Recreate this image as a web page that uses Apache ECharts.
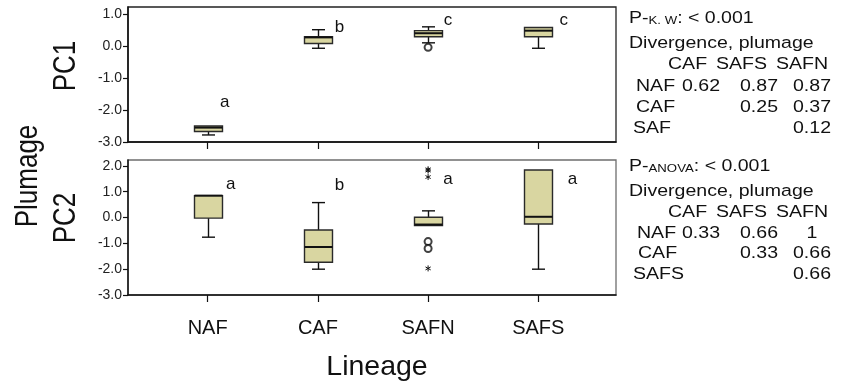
<!DOCTYPE html>
<html><head><meta charset="utf-8">
<script src="https://cdn.jsdelivr.net/npm/echarts@6/dist/echarts.min.js"></script>
<style>html,body{margin:0;padding:0;background:#fff}#c{width:842px;height:385px}</style>
</head><body><div id="c"></div>
<script>
const categories = ['NAF', 'CAF', 'SAFN', 'SAFS'];
// each box: [min, q1, median, q3, max]
const pc1Boxes = [
  [-2.78, -2.67, -2.55, -2.50, -2.50],
  [-0.07, 0.08, 0.27, 0.29, 0.51],
  [0.10, 0.29, 0.40, 0.48, 0.60],
  [-0.07, 0.29, 0.48, 0.58, 0.58]
];
const pc1Outliers = [[2, -0.04]];
const pc1Extremes = [];
const pc2Boxes = [
  [-0.76, -0.02, 0.85, 0.85, 0.85],
  [-2.00, -1.73, -1.14, -0.48, 0.58],
  [-0.32, -0.31, -0.27, 0.01, 0.26],
  [-2.00, -0.25, 0.03, 1.84, 1.84]
];
const pc2Outliers = [[2, -0.93], [2, -1.20]];
const pc2Extremes = [[2, 1.87], [2, 1.82], [2, 1.57], [2, -1.97]];
// group letters: [x position (category index + offset), y value, letter]
const pc1Letters = [[0.155, -1.75, 'a'], [1.195, 0.58, 'b'], [2.18, 0.81, 'c'], [3.23, 0.81, 'c']];
const pc2Letters = [[0.21, 1.29, 'a'], [1.195, 1.24, 'b'], [2.18, 1.49, 'a'], [3.31, 1.49, 'a']];
const pc1Ticks = [-3, -2, -1, 0, 1];
const pc2Ticks = [-3, -2, -1, 0, 1, 2];
const xTicks = [0, 1, 2, 3];
// right-hand text tables
const pc1Stat = ['P-', 'K. W', ': < 0.001'];
const pc2Stat = ['P-', 'ANOVA', ': < 0.001'];
const divTitle = 'Divergence, plumage';
const tableHeader = ['CAF', 'SAFS', 'SAFN'];
const pc1RowNames = ['NAF', 'CAF', 'SAF'];
const pc1Table = [['0.62', '0.87', '0.87'], ['', '0.25', '0.37'], ['', '', '0.12']];
const pc2RowNames = ['NAF', 'CAF', 'SAFS'];
const pc2Table = [['0.33', '0.66', '1'], ['', '0.33', '0.66'], ['', '', '0.66']];

const FONT = '"Liberation Sans", Arial, Helvetica, sans-serif';
const BOX_FILL = '#d9d6a1';
const INK = '#111';
const SX = 1.2;     // horizontal stretch of the original typesetting
const TFS = 16.3;   // right-hand text font size

function boxRender(params, api) {
  const x = api.value(0);
  const v = [api.value(1), api.value(2), api.value(3), api.value(4), api.value(5)];
  const p = v.map(function (d) { return api.coord([x, d]); });
  const cx = Math.round(p[0][0]) + 0.5;
  const hw = 14, cw = 6.5;
  const ls = { stroke: INK, lineWidth: 1.4 };
  const ch = [];
  if (p[4][1] < p[3][1] - 0.5) {
    ch.push({ type: 'line', shape: { x1: cx, y1: p[3][1], x2: cx, y2: p[4][1] }, style: ls });
    ch.push({ type: 'line', shape: { x1: cx - cw, y1: p[4][1], x2: cx + cw, y2: p[4][1] }, style: ls });
  }
  if (p[0][1] > p[1][1] + 0.5) {
    ch.push({ type: 'line', shape: { x1: cx, y1: p[1][1], x2: cx, y2: p[0][1] }, style: ls });
    ch.push({ type: 'line', shape: { x1: cx - cw, y1: p[0][1], x2: cx + cw, y2: p[0][1] }, style: ls });
  }
  ch.push({ type: 'rect', shape: { x: cx - hw, y: p[3][1], width: 2 * hw, height: p[1][1] - p[3][1] },
    style: { fill: BOX_FILL, stroke: '#2a2a2a', lineWidth: 1.4 } });
  ch.push({ type: 'line', shape: { x1: cx - hw, y1: p[2][1], x2: cx + hw, y2: p[2][1] },
    style: { stroke: INK, lineWidth: 2 } });
  return { type: 'group', children: ch };
}
function starRender(params, api) {
  const c = api.coord([api.value(0), api.value(1)]);
  const r = 3;
  const ch = [];
  for (let k = 0; k < 3; k++) {
    const a = Math.PI / 2 + k * Math.PI / 3;
    ch.push({ type: 'line', shape: { x1: c[0] - r * Math.cos(a), y1: c[1] - r * Math.sin(a), x2: c[0] + r * Math.cos(a), y2: c[1] + r * Math.sin(a) },
      style: { stroke: INK, lineWidth: 1 } });
  }
  return { type: 'group', children: ch };
}
function letterRender(params, api) {
  const c = api.coord([api.value(0), api.value(1)]);
  return { type: 'text', x: c[0], y: c[1],
    style: { text: api.value(2), font: '17px ' + FONT, fill: INK, align: 'center', verticalAlign: 'middle' } };
}

function xAxisCfg(gi, showLabels) {
  return {
    type: 'value', gridIndex: gi, min: -0.723, max: 3.705,
    axisLine: { show: true, onZero: false, lineStyle: { color: INK, width: 1.5 } },
    axisTick: { show: true, customValues: xTicks, length: 7, lineStyle: { color: INK, width: 1.2 } },
    axisLabel: { show: showLabels, customValues: xTicks, margin: 23, fontSize: 20, fontFamily: FONT, color: INK,
      formatter: function (v) { return categories[Math.round(v)] || ''; } },
    splitLine: { show: false },
    name: showLabels ? 'Lineage' : '', nameLocation: 'middle', nameGap: 58,
    nameTextStyle: { fontSize: 28.5, fontFamily: FONT, color: INK, padding: [0, 0, 0, 10] }
  };
}
function yAxisCfg(gi, max, ticks) {
  return {
    type: 'value', gridIndex: gi, min: -3, max: max,
    axisLine: { show: true, onZero: false, lineStyle: { color: INK, width: 1.5 } },
    axisTick: { show: true, customValues: ticks, length: 5, lineStyle: { color: INK, width: 1.2 } },
    axisLabel: { customValues: ticks, margin: 6, fontSize: 14, fontFamily: FONT, color: '#222',
      formatter: function (v) { return v.toFixed(1); } },
    splitLine: { show: false }
  };
}

const graphics = [];
function addText(t, x, y, align) {
  graphics.push({ type: 'text', x: x, y: y, scaleX: SX,
    style: { text: t, font: TFS + 'px ' + FONT, fill: INK, align: align || 'left', verticalAlign: 'middle' } });
}
function addBlock(stat, rowNames, table, yPos, rowX) {
  graphics.push({ type: 'text', x: 629, y: yPos[0], scaleX: SX,
    style: { text: '{n|' + stat[0] + '}{s|' + stat[1] + '}{n|' + stat[2] + '}', fill: INK, align: 'left', verticalAlign: 'middle',
      rich: { n: { fontSize: TFS, fontFamily: FONT, lineHeight: 19, verticalAlign: 'bottom', fill: INK },
              s: { fontSize: 11, fontFamily: FONT, lineHeight: 15, verticalAlign: 'bottom', fill: INK } } } });
  addText(divTitle, 629, yPos[1]);
  const hx = [668, 716, 776];
  tableHeader.forEach(function (h, i) { addText(h, hx[i], yPos[2]); });
  const nx = [701, 759, 812];
  rowNames.forEach(function (rn, r) {
    addText(rn, rowX[r], yPos[3 + r]);
    table[r].forEach(function (val, c) { if (val) addText(val, nx[c], yPos[3 + r], 'center'); });
  });
}
addBlock(pc1Stat, pc1RowNames, pc1Table, [17, 44, 65, 87, 108, 129], [636, 636, 633]);
addBlock(pc2Stat, pc2RowNames, pc2Table, [165, 192, 213, 234, 254, 275], [637, 638, 633]);
function addVertical(t, x, y) {
  graphics.push({ type: 'text', x: x, y: y, rotation: Math.PI / 2, scaleY: SX,
    style: { text: t, font: '26px ' + FONT, fill: INK, align: 'center', verticalAlign: 'middle' } });
}
addVertical('PC1', 66, 66);
addVertical('PC2', 66, 218);
addVertical('Plumage', 28, 176);

const chart = echarts.init(document.getElementById('c'), null, { renderer: 'canvas' });
chart.setOption({
  animation: false,
  backgroundColor: '#fff',
  grid: [
    { left: 128, top: 7, width: 488, height: 135, show: true, borderColor: '#222', borderWidth: 1.3, backgroundColor: 'transparent' },
    { left: 128, top: 160, width: 488, height: 135, show: true, borderColor: '#6e6e6e', borderWidth: 1.3, backgroundColor: 'transparent' }
  ],
  xAxis: [xAxisCfg(0, false), xAxisCfg(1, true)],
  yAxis: [yAxisCfg(0, 1.22, pc1Ticks), yAxisCfg(1, 2.23, pc2Ticks)],
  series: [
    { type: 'custom', xAxisIndex: 0, yAxisIndex: 0, renderItem: boxRender,
      data: pc1Boxes.map(function (b, i) { return [i].concat(b); }), encode: { x: 0, y: [1, 2, 3, 4, 5] } },
    { type: 'custom', xAxisIndex: 1, yAxisIndex: 1, renderItem: boxRender,
      data: pc2Boxes.map(function (b, i) { return [i].concat(b); }), encode: { x: 0, y: [1, 2, 3, 4, 5] } },
    { type: 'scatter', xAxisIndex: 0, yAxisIndex: 0, data: pc1Outliers, symbol: 'emptyCircle', symbolSize: 7,
      itemStyle: { color: INK, borderWidth: 1.2 } },
    { type: 'scatter', xAxisIndex: 1, yAxisIndex: 1, data: pc2Outliers, symbol: 'emptyCircle', symbolSize: 7,
      itemStyle: { color: INK, borderWidth: 1.2 } },
    { type: 'custom', xAxisIndex: 0, yAxisIndex: 0, renderItem: starRender, data: pc1Extremes, encode: { x: 0, y: 1 } },
    { type: 'custom', xAxisIndex: 1, yAxisIndex: 1, renderItem: starRender, data: pc2Extremes, encode: { x: 0, y: 1 } },
    { type: 'custom', xAxisIndex: 0, yAxisIndex: 0, renderItem: letterRender, data: pc1Letters, encode: { x: 0, y: 1 } },
    { type: 'custom', xAxisIndex: 1, yAxisIndex: 1, renderItem: letterRender, data: pc2Letters, encode: { x: 0, y: 1 } }
  ],
  graphic: graphics
});
</script></body></html>
